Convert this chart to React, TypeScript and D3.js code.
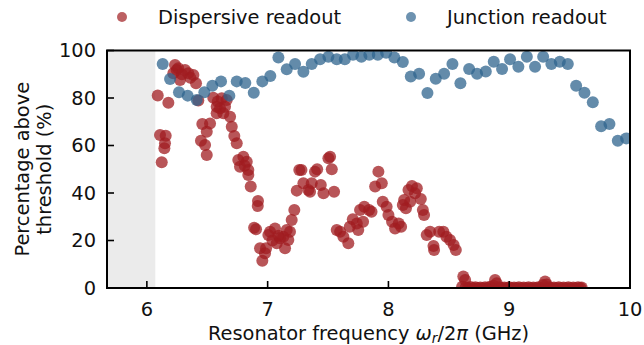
import React from "react";
import * as d3 from "d3";

// ---- Data ----
const dispersiveFreq = [
  6.09, 6.109, 6.123, 6.145, 6.15, 6.156, 6.178,
  6.219, 6.233, 6.247, 6.26, 6.275, 6.29, 6.316, 6.343, 6.36, 6.385, 6.407, 6.426,
  6.448, 6.459, 6.482, 6.496, 6.496, 6.523,
  6.55, 6.578, 6.578, 6.587, 6.606, 6.62, 6.633, 6.647, 6.661, 6.689, 6.703, 6.724, 6.744,
  6.757, 6.771, 6.799, 6.81, 6.827, 6.84, 6.84, 6.86, 6.888, 6.904, 6.918, 6.92,
  6.937, 6.956, 6.978, 6.987, 7.006, 7.02, 7.04, 7.061, 7.075, 7.09, 7.103, 7.13, 7.144,
  7.158, 7.171, 7.185, 7.199, 7.221, 7.241, 7.262, 7.28, 7.296, 7.337, 7.351, 7.365,
  7.392, 7.41, 7.44, 7.462, 7.503, 7.517, 7.531, 7.55, 7.572, 7.6, 7.627, 7.668, 7.68,
  7.705, 7.738, 7.75, 7.765, 7.79, 7.8, 7.84, 7.86, 7.89, 7.917, 7.945, 7.953, 7.985,
  8.0, 8.03, 8.055, 8.085, 8.105, 8.119, 8.13, 8.145, 8.166, 8.18, 8.195, 8.22, 8.235,
  8.268, 8.285, 8.295, 8.317, 8.345, 8.373, 8.378, 8.42, 8.455, 8.48, 8.51, 8.54, 8.558,
  8.62, 8.635, 8.61,
  8.64, 8.66, 8.68, 8.7, 8.72, 8.74, 8.76, 8.78, 8.8, 8.82, 8.84, 8.86, 8.87, 8.883, 8.897,
  8.92, 8.94, 8.96, 8.98, 9.0, 9.02, 9.04, 9.06, 9.08, 9.1, 9.12, 9.14, 9.16, 9.18, 9.2,
  9.22, 9.24, 9.26, 9.28, 9.297, 9.31, 9.33, 9.35, 9.37, 9.39, 9.41, 9.43, 9.45, 9.47,
  9.49, 9.51, 9.53, 9.55, 9.57, 9.59, 9.6,
];
const dispersiveValue = [
  81.1, 64.4, 52.9, 58.8, 60.9, 64.1, 78.0,
  90.4, 93.9, 91.8, 92.5, 87.6, 90.0, 91.8, 90.4, 88.5, 89.7, 86.2, 78.9,
  62.0, 69.1, 60.2, 65.8, 56.0, 69.3,
  80.1, 76.3, 73.6, 78.5, 75.7, 79.9, 73.6, 76.3, 79.2, 72.1, 67.9, 64.0, 60.9,
  53.9, 51.1, 55.3, 51.5, 53.2, 49.7, 47.6, 42.7, 25.4, 24.7, 34.5, 36.6,
  16.7, 11.5, 14.6, 16.7, 22.3, 23.7, 20.0, 25.1, 18.8, 22.0, 20.9, 21.6, 16.7,
  24.4, 20.2, 23.7, 28.6, 32.8, 41.0, 49.7, 49.7, 44.1, 41.3, 40.5, 44.1,
  49.0, 50.0, 43.4, 39.9, 54.6, 55.3, 50.0, 40.5, 24.4, 23.7, 21.6, 18.8, 25.8,
  28.9, 27.2, 24.4, 32.8, 27.9, 34.2, 32.8, 32.1, 42.7, 49.0, 44.1, 36.3, 34.2,
  30.7, 27.9, 25.1, 27.2, 25.8, 34.9, 37.1, 33.6, 41.3, 36.3, 42.9, 39.9, 42.0,
  37.5, 32.8, 30.7, 22.3, 23.7, 17.7, 16.0, 23.7, 23.7, 21.6, 20.2, 18.1, 16.0,
  4.8, 3.4, 0.5,
  0.3, 0.0, 0.4, 0.0, 0.3, 0.0, 0.2, 0.0, 0.3, 0.0, 0.5, 0.0, 1.0, 3.4, 2.0,
  0.3, 0.0, 0.2, 0.0, 0.3, 0.0, 0.2, 0.0, 0.3, 0.0, 0.2, 0.0, 0.3, 0.0, 0.2,
  0.0, 0.3, 0.0, 1.3, 2.7, 1.5, 0.3, 0.0, 0.2, 0.0, 0.3, 0.0, 0.2, 0.0,
  0.3, 0.0, 0.2, 0.0, 0.3, 0.0, 0.2,
];

const junctionFreq = [
  6.131, 6.192, 6.266, 6.338, 6.413, 6.476, 6.542, 6.614, 6.683, 6.744, 6.815, 6.885,
  6.956, 7.022, 7.089, 7.158, 7.227, 7.296, 7.365, 7.434, 7.503, 7.572, 7.639, 7.707,
  7.776, 7.842, 7.912, 7.981, 8.049, 8.119, 8.185, 8.254, 8.323, 8.392, 8.461, 8.53,
  8.596, 8.668, 8.734, 8.806, 8.872, 8.941, 9.007, 9.076, 9.146, 9.214, 9.281, 9.349,
  9.419, 9.485, 9.554, 9.623, 9.692, 9.761, 9.83, 9.899, 9.968,
];
const junctionValue = [
  94.3, 88.0, 82.4, 81.0, 79.2, 82.4, 85.2, 87.0, 81.0, 87.0, 86.3, 82.2,
  87.0, 89.3, 97.1, 92.1, 94.3, 91.1, 94.3, 96.3, 97.4, 96.3, 96.3, 98.2,
  97.4, 98.2, 98.2, 99.1, 97.1, 95.2, 89.1, 90.2, 82.1, 88.1, 90.2, 94.3,
  86.2, 92.2, 90.2, 91.2, 95.3, 92.2, 96.3, 93.2, 97.4, 93.2, 97.4, 94.3,
  95.3, 94.3, 85.2, 82.2, 78.2, 68.1, 69.1, 62.0, 63.0,
];

const xTicks = [6, 7, 8, 9, 10];
const yTicks = [0, 20, 40, 60, 80, 100];
const shadedRange = [5.67, 6.07];
const seriesNames = ["Dispersive readout", "Junction readout"];

const RED = "#a01c20";
const BLUE = "#2f648e";
const FONT = "DejaVu Sans, sans-serif";
const FS = 19.4;

export default function App() {
  const W = 644, H = 345;
  const L = 107, R = 630, T = 50.5, B = 288;
  const x = d3.scaleLinear().domain([5.67, 10]).range([L, R]);
  const y = d3.scaleLinear().domain([0, 100]).range([B, T]);

  const red = dispersiveFreq.map((f, i) => [f, dispersiveValue[i]]);
  const blue = junctionFreq.map((f, i) => [f, junctionValue[i]]);

  return (
    <svg width={W} height={H} style={{ position: "absolute", left: 0, top: 0 }} fontFamily={FONT}>
      <defs>
        <clipPath id="plotclip">
          <rect x={L} y={T} width={R - L} height={B - T} />
        </clipPath>
      </defs>
      <rect x={0} y={0} width={W} height={H} fill="white" />
      <rect x={x(shadedRange[0])} y={T} width={x(shadedRange[1]) - x(shadedRange[0])} height={B - T} fill="#ebebeb" />
      <g clipPath="url(#plotclip)">
        {red.map((d, i) => (
          <circle key={"r" + i} cx={x(d[0])} cy={y(d[1])} r={6} fill={RED} fillOpacity={0.75} />
        ))}
        {blue.map((d, i) => (
          <circle key={"b" + i} cx={x(d[0])} cy={y(d[1])} r={6} fill={BLUE} fillOpacity={0.75} />
        ))}
      </g>
      {/* ticks */}
      {xTicks.map((t) => (
        <g key={"xt" + t}>
          <line x1={x(t)} x2={x(t)} y1={B} y2={B - 7} stroke="black" strokeWidth={1.6} />
          <text x={x(t)} y={315.5} textAnchor="middle" fontSize={FS} fill="#111">{t}</text>
        </g>
      ))}
      {yTicks.map((t) => (
        <g key={"yt" + t}>
          <line x1={L} x2={L + 7} y1={y(t)} y2={y(t)} stroke="black" strokeWidth={1.6} />
          <text x={96} y={y(t)} dy="0.36em" textAnchor="end" fontSize={FS} fill="#111">{t}</text>
        </g>
      ))}
      <rect x={L} y={T} width={R - L} height={B - T} fill="none" stroke="black" strokeWidth={2} />
      {/* axis labels */}
      <text x={(L + R) / 2} y={339.5} textAnchor="middle" fontSize={19.4} fill="#111">
        Resonator frequency <tspan fontStyle="italic">ω</tspan>
        <tspan fontStyle="italic" fontSize={13.5} dy={3}>r</tspan>
        <tspan dy={-3}>/2</tspan>
        <tspan fontStyle="italic">π</tspan> (GHz)
      </text>
      <g transform={`translate(0, ${(T + B) / 2}) rotate(-90)`}>
        <text x={0} y={29} textAnchor="middle" fontSize={FS} fill="#111">Percentage above</text>
        <text x={0} y={51} textAnchor="middle" fontSize={FS} fill="#111">threshold (%)</text>
      </g>
      {/* legend */}
      <circle cx={122} cy={17} r={5} fill={RED} fillOpacity={0.7} />
      <text x={158} y={24} fontSize={FS} fill="#111">{seriesNames[0]}</text>
      <circle cx={411} cy={17} r={5} fill={BLUE} fillOpacity={0.7} />
      <text x={447} y={24} fontSize={FS} fill="#111">{seriesNames[1]}</text>
    </svg>
  );
}
